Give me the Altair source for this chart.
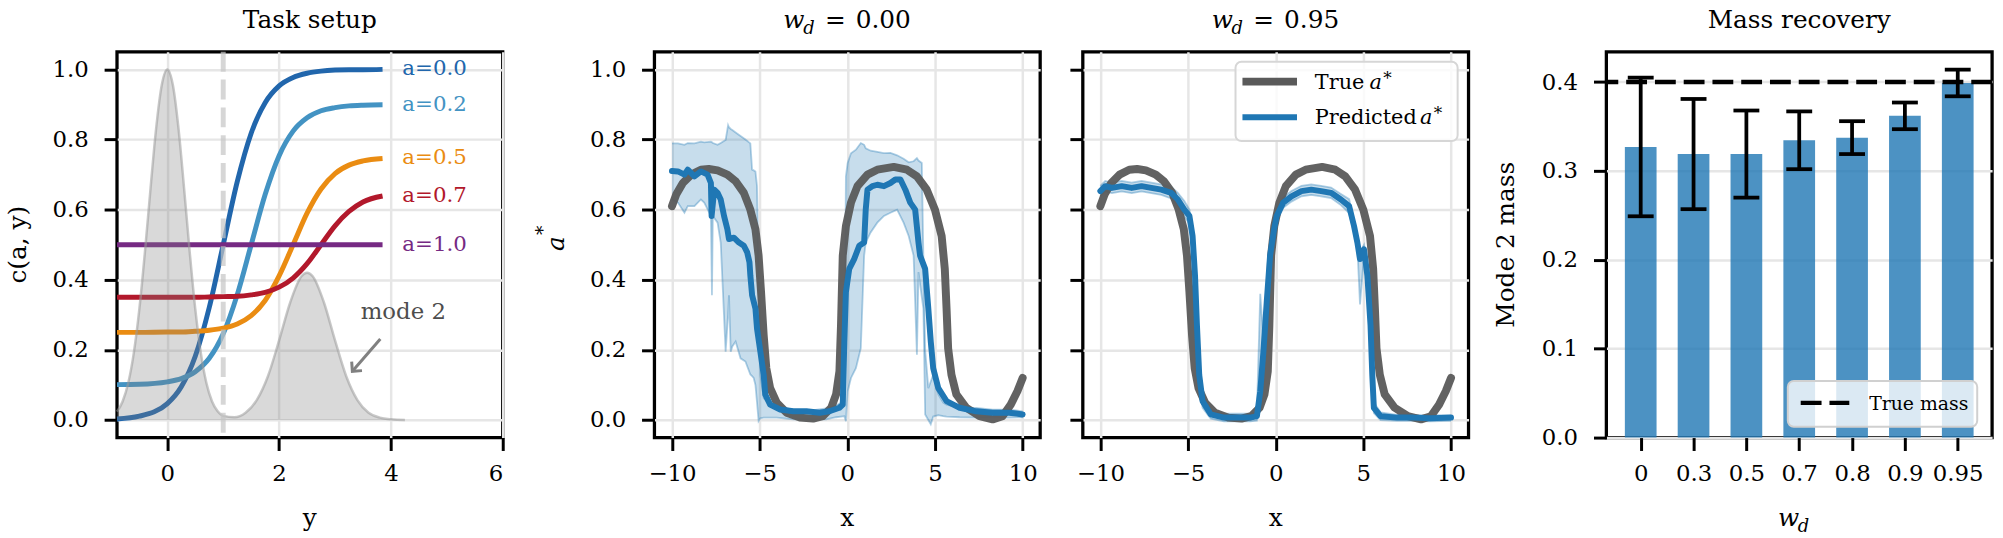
import altair as alt
import pandas as pd

FONT = "DejaVu Serif"
BLUE = "#1f77b4"
GRAY = "#5a5a5a"

# ---------------- Panel 1: task setup ----------------
sig_x = [-0.9, -0.5, 0.0, 0.25, 0.5, 0.75, 1.0, 1.25, 1.5, 1.75, 2.0, 2.25, 2.5, 2.75, 3.0, 3.25, 3.5, 3.85]
c_a00 = [0.003, 0.011, 0.047, 0.095, 0.182, 0.321, 0.5, 0.679, 0.818, 0.905, 0.953, 0.977, 0.989, 0.995, 0.998, 0.999, 0.999, 1.0]
c_a02 = [0.101, 0.102, 0.109, 0.118, 0.138, 0.176, 0.246, 0.357, 0.5, 0.643, 0.754, 0.824, 0.862, 0.882, 0.891, 0.896, 0.898, 0.899]
c_a05 = [0.25, 0.25, 0.251, 0.251, 0.253, 0.256, 0.262, 0.274, 0.298, 0.341, 0.411, 0.5, 0.590, 0.659, 0.703, 0.727, 0.739, 0.746]
c_a07 = [0.35, 0.35, 0.350, 0.350, 0.350, 0.351, 0.352, 0.353, 0.357, 0.364, 0.379, 0.405, 0.446, 0.5, 0.554, 0.595, 0.622, 0.639]
c_a10 = [0.5, 0.5, 0.5, 0.5, 0.5, 0.5, 0.5, 0.5, 0.5, 0.5, 0.5, 0.5, 0.5, 0.5, 0.5, 0.5, 0.5, 0.5]
a_labels = ["a=0.0", "a=0.2", "a=0.5", "a=0.7", "a=1.0"]
a_colors = ["#2166ac", "#4393c3", "#ea8c12", "#b2182b", "#762a83"]
sig_curves = [c_a00, c_a02, c_a05, c_a07, c_a10]

dens_x = [-0.9, -0.8, -0.7, -0.6, -0.5, -0.4, -0.3, -0.2, -0.1, 0.0, 0.1, 0.2, 0.3, 0.4, 0.5, 0.6, 0.7,
          0.8, 0.9, 1.0, 1.2, 1.4, 1.6, 1.8, 2.0, 2.2, 2.4, 2.5, 2.6, 2.8, 3.0, 3.2, 3.4, 3.6, 3.8, 4.0, 4.25]
dens_y = [0.024, 0.053, 0.105, 0.191, 0.317, 0.480, 0.661, 0.832, 0.955, 1.0, 0.955, 0.832, 0.661, 0.480,
          0.317, 0.191, 0.105, 0.053, 0.025, 0.012, 0.008, 0.021, 0.057, 0.125, 0.227, 0.336, 0.410, 0.420,
          0.410, 0.336, 0.227, 0.125, 0.057, 0.021, 0.007, 0.002, 0.0]
threshold_x = [1.0]
mode2_note = {"t": ["mode 2"], "x": [3.46], "y": [0.288]}
arrow_seg = {"x": [3.81], "y": [0.231], "x2": [3.31], "y2": [0.139]}

# ---------------- Panels 2-3: a* curves ----------------
true_x = [-10, -9.76, -9.38, -8.9, -8.35, -7.9, -7.4, -6.84, -6.37, -5.9, -5.53, -5.24, -5.06, -4.92, -4.77,
          -4.62, -4.4, -4.02, -3.46, -2.7, -1.95, -1.4, -0.92, -0.64, -0.45, -0.36, -0.26, -0.08, 0.21, 0.58,
          1.15, 1.71, 2.65, 3.40, 3.97, 4.53, 5.0, 5.38, 5.56, 5.66, 5.75, 5.94, 6.22, 6.79, 7.54, 8.29, 8.85,
          9.32, 9.7, 10.0]
true_y = [0.61, 0.643, 0.676, 0.70, 0.714, 0.716, 0.712, 0.70, 0.681, 0.648, 0.60, 0.544, 0.469, 0.365, 0.242,
          0.148, 0.091, 0.049, 0.021, 0.007, 0.004, 0.011, 0.035, 0.073, 0.139, 0.27, 0.469, 0.553, 0.62, 0.667,
          0.70, 0.714, 0.722, 0.714, 0.695, 0.657, 0.60, 0.525, 0.431, 0.318, 0.205, 0.129, 0.073, 0.035, 0.011,
          0.002, 0.011, 0.044, 0.082, 0.12]

p2_x = [-10, -9.66, -9.29, -9.1, -8.72, -8.35, -7.97, -7.78, -7.74, -7.59, -7.4, -7.22, -7.03, -6.84, -6.75,
        -6.47, -6.18, -5.9, -5.71, -5.58, -5.53, -5.43, -5.24, -5.15, -4.96, -4.77, -4.68, -4.4, -3.83, -3.08,
        -2.33, -1.58, -1.02, -0.45, -0.26, -0.17, -0.08, 0.11, 0.39, 0.68, 0.96, 1.05, 1.15, 1.43, 1.71, 2.09,
        2.46, 2.74, 3.03, 3.31, 3.59, 3.87, 4.06, 4.15, 4.44, 4.62, 4.76, 4.9, 5.19, 5.66, 6.41, 7.35, 8.29,
        9.23, 10.0]
p2_y = [0.71, 0.709, 0.70, 0.714, 0.695, 0.709, 0.70, 0.676, 0.582, 0.657, 0.648, 0.629, 0.582, 0.544, 0.516,
        0.52, 0.506, 0.497, 0.478, 0.45, 0.412, 0.356, 0.318, 0.261, 0.195, 0.129, 0.073, 0.044, 0.030, 0.025,
        0.025, 0.021, 0.025, 0.035, 0.044, 0.224, 0.365, 0.431, 0.459, 0.497, 0.506, 0.60, 0.657, 0.667, 0.671,
        0.667, 0.676, 0.686, 0.686, 0.657, 0.62, 0.60, 0.506, 0.469, 0.431, 0.318, 0.224, 0.148, 0.091, 0.054,
        0.035, 0.025, 0.021, 0.021, 0.016]

p2_band_x = [-10, -9.66, -9.29, -9.1, -8.72, -8.35, -8.16, -7.78, -7.72, -7.67, -7.4, -7.22, -6.94, -6.8, -6.75,
             -6.65, -6.56, -6.37, -6.09, -5.81, -5.53, -5.43, -5.34, -5.24, -5.15, -5.06, -4.96, -4.77, -4.4,
             -4.02, -3.08, -2.14, -1.2, -0.64, -0.17, -0.08, 0.02, 0.21, 0.49, 0.77, 0.96, 1.05, 1.33, 1.71, 2.09,
             2.46, 2.84, 3.21, 3.50, 3.78, 3.97, 4.06, 4.25, 4.34, 4.44, 4.62, 4.76, 4.9, 5.19, 5.47, 5.66, 6.41,
             7.35, 8.29, 9.23, 10.0]
p2_band_hi = [0.789, 0.789, 0.785, 0.790, 0.789, 0.794, 0.792, 0.794, 0.792, 0.790, 0.785, 0.790, 0.799, 0.841,
              0.835, 0.830, 0.827, 0.820, 0.810, 0.800, 0.789, 0.714, 0.712, 0.709, 0.667, 0.412, 0.129, 0.063,
              0.044, 0.038, 0.030, 0.027, 0.033, 0.042, 0.054, 0.695, 0.733, 0.761, 0.771, 0.790, 0.785, 0.775,
              0.768, 0.765, 0.761, 0.762, 0.755, 0.745, 0.735, 0.738, 0.747, 0.740, 0.733, 0.459, 0.20, 0.091,
              0.11, 0.129, 0.073, 0.05, 0.044, 0.035, 0.035, 0.030, 0.030, 0.025]
p2_band_lo = [0.629, 0.62, 0.591, 0.61, 0.61, 0.629, 0.62, 0.582, 0.356, 0.582, 0.563, 0.506, 0.195, 0.30, 0.356,
              0.195, 0.21, 0.224, 0.176, 0.167, 0.13, 0.125, 0.12, 0.10, 0.05, -0.003, 0.005, 0.007, 0.007, 0.007,
              0.002, 0.002, 0.002, 0.008, 0.011, -0.003, 0.082, 0.12, 0.148, 0.205, 0.469, 0.506, 0.535, 0.563,
              0.582, 0.591, 0.60, 0.563, 0.525, 0.469, 0.186, 0.422, 0.35, 0.318, 0.016, 0.0, -0.012, 0.01, 0.014,
              0.011, 0.010, 0.008, 0.007, 0.008, 0.007, 0.008]

p3_x = [-10, -9.72, -9.34, -8.78, -8.21, -7.65, -7.09, -6.52, -5.96, -5.58, -5.21, -4.92, -4.74, -4.6, -4.49,
        -4.36, -4.17, -3.7, -2.95, -2.2, -1.45, -1.07, -0.88, -0.7, -0.51, -0.32, -0.09, 0.06, 0.43, 0.9, 1.47,
        2.03, 2.59, 3.16, 3.72, 4.19, 4.47, 4.66, 4.81, 5.04, 5.23, 5.41, 5.51, 5.6, 5.98, 6.92, 7.86, 8.8, 10.0]
p3_y = [0.653, 0.667, 0.662, 0.667, 0.662, 0.667, 0.662, 0.657, 0.648, 0.629, 0.60, 0.582, 0.525, 0.412, 0.27,
        0.129, 0.054, 0.016, 0.007, 0.007, 0.007, 0.011, 0.082, 0.195, 0.337, 0.469, 0.544, 0.582, 0.62, 0.638,
        0.653, 0.657, 0.653, 0.648, 0.629, 0.61, 0.553, 0.506, 0.459, 0.487, 0.412, 0.27, 0.129, 0.035, 0.011,
        0.007, 0.007, 0.005, 0.007]
p3_band_hi = [0.668, 0.682, 0.677, 0.682, 0.677, 0.682, 0.677, 0.672, 0.665, 0.648, 0.625, 0.60, 0.55, 0.44,
              0.30, 0.16, 0.07, 0.028, 0.018, 0.018, 0.018, 0.025, 0.36, 0.23, 0.36, 0.49, 0.56, 0.60, 0.635,
              0.653, 0.668, 0.672, 0.668, 0.663, 0.645, 0.63, 0.57, 0.525, 0.48, 0.50, 0.43, 0.29, 0.15, 0.05,
              0.022, 0.015, 0.015, 0.013, 0.015]
p3_band_lo = [0.638, 0.652, 0.647, 0.652, 0.647, 0.652, 0.647, 0.642, 0.632, 0.61, 0.58, 0.56, 0.50, 0.39, 0.24,
              0.10, 0.035, 0.004, -0.004, -0.004, -0.004, -0.002, 0.06, 0.17, 0.31, 0.45, 0.53, 0.565, 0.605,
              0.623, 0.638, 0.642, 0.638, 0.633, 0.613, 0.59, 0.535, 0.49, 0.33, 0.47, 0.395, 0.25, 0.11, 0.02,
              0.0, -0.002, -0.002, -0.004, -0.002]

# ---------------- Panel 4: mass recovery ----------------
wd_labels = ["0", "0.3", "0.5", "0.7", "0.8", "0.9", "0.95"]
mass_mean = [0.327, 0.319, 0.319, 0.3345, 0.3375, 0.362, 0.399]
mass_err = [0.078, 0.062, 0.049, 0.0325, 0.0185, 0.015, 0.015]
true_mass = [0.4]

W = 389
H = 389
ONE = [{"k": 0}]


def txt(text, x, y, size, align="left", baseline="alphabetic", italic=False, angle=None, color="black"):
    kw = dict(text=text, fontSize=size, font=FONT, align=align, baseline=baseline, color=color)
    if italic:
        kw["fontStyle"] = "italic"
    if angle is not None:
        kw["angle"] = angle
    return alt.Chart(alt.Data(values=ONE)).mark_text(**kw).encode(x=alt.value(x), y=alt.value(y))


def pin(x, y):
    return alt.Chart(alt.Data(values=ONE)).mark_rule(strokeOpacity=0, strokeWidth=1, color="white").encode(
        x=alt.value(x), x2=alt.value(x), y=alt.value(y), y2=alt.value(y))


def wd_title(value):
    return [
        txt("w", 130, -24.5, 25, italic=True),
        txt("d", 150, -18, 18, italic=True),
        txt("=", 172, -24.5, 25),
        txt(value, 203, -24.5, 25),
    ]


Y01 = alt.Scale(domain=[-0.05, 1.05], nice=False, zero=False, padding=0)
yvals = [0, 0.2, 0.4, 0.6, 0.8, 1.0]

# ---- Panel 1 ----
X1 = alt.Scale(domain=[-0.9, 6], nice=False, zero=False, padding=0)
AX1 = alt.Axis(values=[0, 2, 4, 6], format="d", title=None)
AY1 = alt.Axis(values=yvals, format=".1f", title=None)

sig_df = pd.DataFrame([
    {"x": x, "c": c, "series": lab}
    for lab, cur in zip(a_labels, sig_curves) for x, c in zip(sig_x, cur)
])
cscale = alt.Scale(domain=a_labels, range=a_colors)

sig_lines = alt.Chart(sig_df).mark_line(strokeWidth=5, interpolate="monotone").encode(
    x=alt.X("x:Q", scale=X1, axis=AX1),
    y=alt.Y("c:Q", scale=Y01, axis=AY1),
    color=alt.Color("series:N", scale=cscale, legend=None),
)
dens_df = pd.DataFrame({"x": dens_x, "d": dens_y})
dens_area = alt.Chart(dens_df).mark_area(color="#808080", opacity=0.3, interpolate="monotone").encode(
    x=alt.X("x:Q", scale=X1, axis=AX1), y=alt.Y("d:Q", scale=Y01, axis=AY1), y2=alt.datum(0))
dens_line = alt.Chart(dens_df).mark_line(color="#9a9a9a", opacity=0.55, strokeWidth=2.5,
                                         interpolate="monotone").encode(
    x=alt.X("x:Q", scale=X1, axis=AX1), y=alt.Y("d:Q", scale=Y01, axis=AY1))
thr = alt.Chart(pd.DataFrame({"x": threshold_x})).mark_rule(
    color="#c4c4c4", opacity=0.7, strokeWidth=5, strokeDash=[20, 8]).encode(
    x=alt.X("x:Q", scale=X1, axis=AX1))
lab_df = pd.DataFrame({"label": a_labels, "x": [sig_x[-1]] * len(a_labels), "y": [c[-1] for c in sig_curves]})
labels = alt.Chart(lab_df).mark_text(align="left", baseline="middle", dx=20, fontSize=21.5, font=FONT).encode(
    x=alt.X("x:Q", scale=X1, axis=AX1), y=alt.Y("y:Q", scale=Y01, axis=AY1), text="label:N",
    color=alt.Color("label:N", scale=cscale, legend=None))
mode_txt = alt.Chart(pd.DataFrame(mode2_note)).mark_text(
    align="left", baseline="alphabetic", fontSize=23, font=FONT, color="#4d4d4d").encode(
    x=alt.X("x:Q", scale=X1, axis=AX1), y=alt.Y("y:Q", scale=Y01, axis=AY1), text="t:N")
arr_df = pd.DataFrame(arrow_seg)
arrow = alt.Chart(arr_df).mark_rule(color="#808080", strokeWidth=3).encode(
    x=alt.X("x:Q", scale=X1, axis=AX1), y=alt.Y("y:Q", scale=Y01, axis=AY1), x2="x2:Q", y2="y2:Q")
head = alt.Chart(arr_df).mark_point(shape="M -1 1 L 0 0 L 1 1", size=190, angle=221, color="#808080",
                                    strokeWidth=3, filled=False, opacity=1).encode(
    x=alt.X("x2:Q", scale=X1, axis=AX1), y=alt.Y("y2:Q", scale=Y01, axis=AY1))

p1 = alt.layer(
    sig_lines, dens_area, dens_line, thr, labels, mode_txt, arrow, head,
    txt("Task setup", W / 2, -24.5, 25, align="center"),
    txt("y", W / 2, 478, 25, align="center"),
    txt("c(a, y)", -100, H / 2, 25, align="center", baseline="middle", angle=270),
    pin(-116, -48), pin(417, 490),
).properties(width=W, height=H)


# ---- Panels 2, 3 ----
def traj_panel(px, py, bx, blo, bhi, value, ylabels, extra):
    XS = alt.Scale(domain=[-11, 11], nice=False, zero=False, padding=0)
    AXX = alt.Axis(values=[-10, -5, 0, 5, 10], format="d", title=None)
    AYY = alt.Axis(values=yvals, format=".1f", title=None, labels=ylabels)
    band_df = pd.DataFrame({"x": bx, "lo": blo, "hi": bhi})
    xx = alt.X("x:Q", scale=XS, axis=AXX)
    band = alt.Chart(band_df).mark_area(color=BLUE, opacity=0.25).encode(
        x=xx, y=alt.Y("hi:Q", scale=Y01, axis=AYY), y2="lo:Q")
    hi_line = alt.Chart(band_df).mark_line(color=BLUE, opacity=0.35, strokeWidth=1.8).encode(
        x=xx, y=alt.Y("hi:Q", scale=Y01, axis=AYY))
    lo_line = alt.Chart(band_df).mark_line(color=BLUE, opacity=0.35, strokeWidth=1.8).encode(
        x=xx, y=alt.Y("lo:Q", scale=Y01, axis=AYY))
    true_line = alt.Chart(pd.DataFrame({"x": true_x, "y": true_y})).mark_line(
        color=GRAY, strokeWidth=8, strokeCap="round", strokeJoin="round", opacity=0.95).encode(
        x=xx, y=alt.Y("y:Q", scale=Y01, axis=AYY))
    pred_line = alt.Chart(pd.DataFrame({"x": px, "y": py})).mark_line(
        color=BLUE, strokeWidth=6, strokeCap="round", strokeJoin="round").encode(
        x=xx, y=alt.Y("y:Q", scale=Y01, axis=AYY))
    return alt.layer(
        band, hi_line, lo_line, true_line, pred_line,
        *wd_title(value),
        txt("x", W / 2, 478, 25, align="center"),
        *extra,
    ).properties(width=W, height=H)


p2 = traj_panel(p2_x, p2_y, p2_band_x, p2_band_lo, p2_band_hi, "0.00", True, [
    txt("a", -99.5, 193.5, 25, align="center", baseline="middle", italic=True, angle=270),
    txt("*", -112, 180, 19, align="center", baseline="middle", angle=270),
    pin(-120, -48), pin(409, 480),
])

legend3 = [
    alt.Chart(alt.Data(values=ONE)).mark_rect(fill="white", fillOpacity=0.8, stroke="#d6d6d6", strokeWidth=2,
                                              cornerRadius=6).encode(
        x=alt.value(154), x2=alt.value(378), y=alt.value(10), y2=alt.value(90)),
    alt.Chart(alt.Data(values=ONE)).mark_rule(color=GRAY, strokeWidth=8).encode(
        x=alt.value(161), x2=alt.value(216), y=alt.value(30)),
    alt.Chart(alt.Data(values=ONE)).mark_rule(color=BLUE, strokeWidth=6).encode(
        x=alt.value(161), x2=alt.value(216), y=alt.value(66)),
    txt("True", 234, 37.5, 21),
    txt("a", 289, 37.5, 21, italic=True),
    txt("*", 303, 32, 17),
    txt("Predicted", 234, 73, 21),
    txt("a", 340, 73, 21, italic=True),
    txt("*", 354, 67.5, 17),
]
p3 = traj_panel(p3_x, p3_y, p3_x, p3_band_lo, p3_band_hi, "0.95", False,
                legend3 + [pin(-19, -48), pin(404, 480)])

# ---- Panel 4 ----
bar_df = pd.DataFrame({"i": list(range(len(wd_labels))), "m": mass_mean, "e": mass_err})
X4 = alt.Scale(domain=[-0.65, 6.65], nice=False, zero=False, padding=0)
label_expr = "[" + ",".join("'" + s + "'" for s in wd_labels) + "][datum.value]"
AX4 = alt.Axis(values=list(range(len(wd_labels))), labelExpr=label_expr, title=None, grid=False)
Y4 = alt.Scale(domain=[0, 0.434], nice=False, zero=False, padding=0)
AY4 = alt.Axis(values=[0, 0.1, 0.2, 0.3, 0.4], format=".1f", title=None)

base4 = alt.Chart(bar_df).transform_calculate(
    x0="datum.i - 0.3", x1="datum.i + 0.3", lo="datum.m - datum.e", hi="datum.m + datum.e",
    cl="datum.i - 0.245", cr="datum.i + 0.245")
bars = base4.mark_bar(color=BLUE, opacity=0.8).encode(
    x=alt.X("x0:Q", scale=X4, axis=AX4), x2="x1:Q", y=alt.Y("m:Q", scale=Y4, axis=AY4), y2=alt.datum(0))
stems = base4.mark_rule(color="black", strokeWidth=3.8).encode(
    x=alt.X("i:Q", scale=X4, axis=AX4), y=alt.Y("lo:Q", scale=Y4, axis=AY4), y2="hi:Q")
cap_lo = base4.mark_rule(color="black", strokeWidth=3.8).encode(
    x=alt.X("cl:Q", scale=X4, axis=AX4), x2="cr:Q", y=alt.Y("lo:Q", scale=Y4, axis=AY4))
cap_hi = base4.mark_rule(color="black", strokeWidth=3.8).encode(
    x=alt.X("cl:Q", scale=X4, axis=AX4), x2="cr:Q", y=alt.Y("hi:Q", scale=Y4, axis=AY4))
hline = alt.Chart(pd.DataFrame({"v": true_mass})).mark_rule(color="black", strokeWidth=4.5,
                                                            strokeDash=[21, 8]).encode(
    y=alt.Y("v:Q", scale=Y4, axis=AY4))
legend4 = [
    alt.Chart(alt.Data(values=ONE)).mark_rect(fill="white", fillOpacity=0.8, stroke="#d0d0d0", strokeWidth=2,
                                              cornerRadius=6).encode(
        x=alt.value(183), x2=alt.value(374), y=alt.value(332), y2=alt.value(378)),
    alt.Chart(alt.Data(values=ONE)).mark_rule(color="black", strokeWidth=4.5, strokeDash=[21, 8]).encode(
        x=alt.value(196), x2=alt.value(245), y=alt.value(354)),
    txt("True mass", 265, 361, 19),
]
p4 = alt.layer(
    bars, stems, cap_lo, cap_hi, hline, *legend4,
    txt("Mass recovery", W / 2, -24.5, 25, align="center"),
    txt("w", 173, 478, 25, italic=True),
    txt("d", 193, 484, 18, italic=True),
    txt("Mode 2 mass", -101, H / 2, 25, align="center", baseline="middle", angle=270),
    pin(-120, -48), pin(398, 490),
).properties(width=W, height=H)

chart = alt.hconcat(p1, p2, p3, p4, spacing=0).properties(padding=0).configure(
    font=FONT, background="white"
).configure_view(stroke="black", strokeWidth=3.3).configure_axis(
    domain=False, tickColor="black", tickWidth=3, tickSize=13, labelFont=FONT, labelFontSize=23,
    labelColor="black", gridColor="#e6e6e6", gridWidth=2.5, labelPadding=12,
).configure_axisY(labelPadding=16)

chart.save("out.html", embed_options={"renderer": "svg", "actions": False})
